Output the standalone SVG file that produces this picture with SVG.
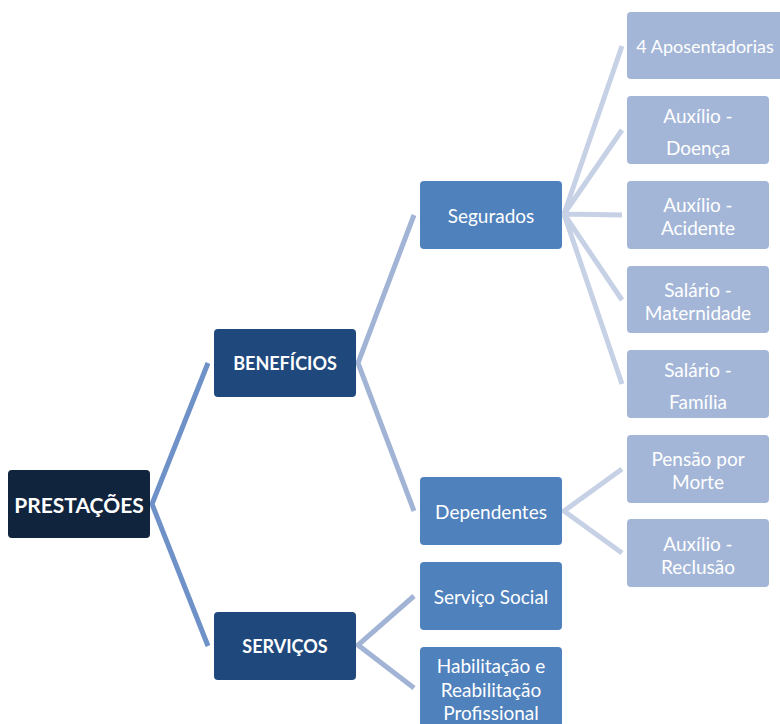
<svg xmlns="http://www.w3.org/2000/svg" width="780" height="724" viewBox="0 0 780 724">
<style>
text{font-family:Lato,"Noto Sans","Liberation Sans",sans-serif;fill:#fff;text-anchor:middle;dominant-baseline:central;font-size:19px}
.l1{fill:#10243e}.l2{fill:#1f497d}.l3{fill:#4f81bd}.l4{fill:#a3b6d7}
.b{font-weight:bold;font-size:18px}
.big{font-weight:bold;font-size:21px}
.c1{stroke:#6e91c7;stroke-width:5;fill:none}
.c2{stroke:#a2b4d6;stroke-width:5;fill:none}
.c3{stroke:#c6d1e6;stroke-width:5;fill:none}
</style>
<rect width="780" height="724" fill="#fff"/>
<g id="connectors">
<polyline class="c1" points="208,363 152,504 208,646"/>
<polyline class="c2" points="414,215 358,363 414,511"/>
<polyline class="c2" points="414,596 358,645 414,688"/>
<path class="c3" d="M622,46 L564,214 L622,130 M564,214 L622,215 M564,214 L622,300 M564,214 L622,384"/>
<polyline class="c3" points="622,469 564,511 622,553"/>
</g>
<g id="prestacoes"><rect class="l1" x="8" y="470" width="142" height="68" rx="4"/><text class="big" x="79" y="504">PRESTAÇÕES</text></g>
<g id="beneficios"><rect class="l2" x="214" y="329" width="142" height="68" rx="4"/><text class="b" x="285" y="363">BENEFÍCIOS</text></g>
<g id="servicos"><rect class="l2" x="214" y="612" width="142" height="68" rx="4"/><text class="b" x="285" y="646">SERVIÇOS</text></g>
<g id="segurados"><rect class="l3" x="420" y="181" width="142" height="68" rx="4"/><text x="491" y="215">Segurados</text></g>
<g id="dependentes"><rect class="l3" x="420" y="477" width="142" height="68" rx="4"/><text x="491" y="511">Dependentes</text></g>
<g id="servico-social"><rect class="l3" x="420" y="562" width="142" height="68" rx="4"/><text x="491" y="596">Serviço Social</text></g>
<g id="habilitacao"><rect class="l3" x="420" y="647" width="142" height="82" rx="4"/><text x="491" y="665">Habilitação e</text><text x="491" y="689">Reabilitação</text><text x="491" y="712">Profissional</text></g>
<g id="aposentadorias"><rect class="l4" x="627" y="12" width="170" height="67" rx="4"/><text x="705" y="46" style="font-size:18px">4 Aposentadorias</text></g>
<g id="auxilio-doenca"><rect class="l4" x="627" y="96" width="142" height="68" rx="4"/><text x="698" y="115">Auxílio -</text><text x="698" y="147">Doença</text></g>
<g id="auxilio-acidente"><rect class="l4" x="627" y="181" width="142" height="68" rx="4"/><text x="698" y="204">Auxílio -</text><text x="698" y="227">Acidente</text></g>
<g id="salario-maternidade"><rect class="l4" x="627" y="266" width="142" height="67" rx="4"/><text x="698" y="289">Salário -</text><text x="698" y="312">Maternidade</text></g>
<g id="salario-familia"><rect class="l4" x="627" y="350" width="142" height="68" rx="4"/><text x="698" y="369">Salário -</text><text x="698" y="401">Família</text></g>
<g id="pensao"><rect class="l4" x="627" y="435" width="142" height="68" rx="4"/><text x="698" y="458">Pensão por</text><text x="698" y="481">Morte</text></g>
<g id="auxilio-reclusao"><rect class="l4" x="627" y="519" width="142" height="68" rx="4"/><text x="698" y="543">Auxílio -</text><text x="698" y="566">Reclusão</text></g>
</svg>
